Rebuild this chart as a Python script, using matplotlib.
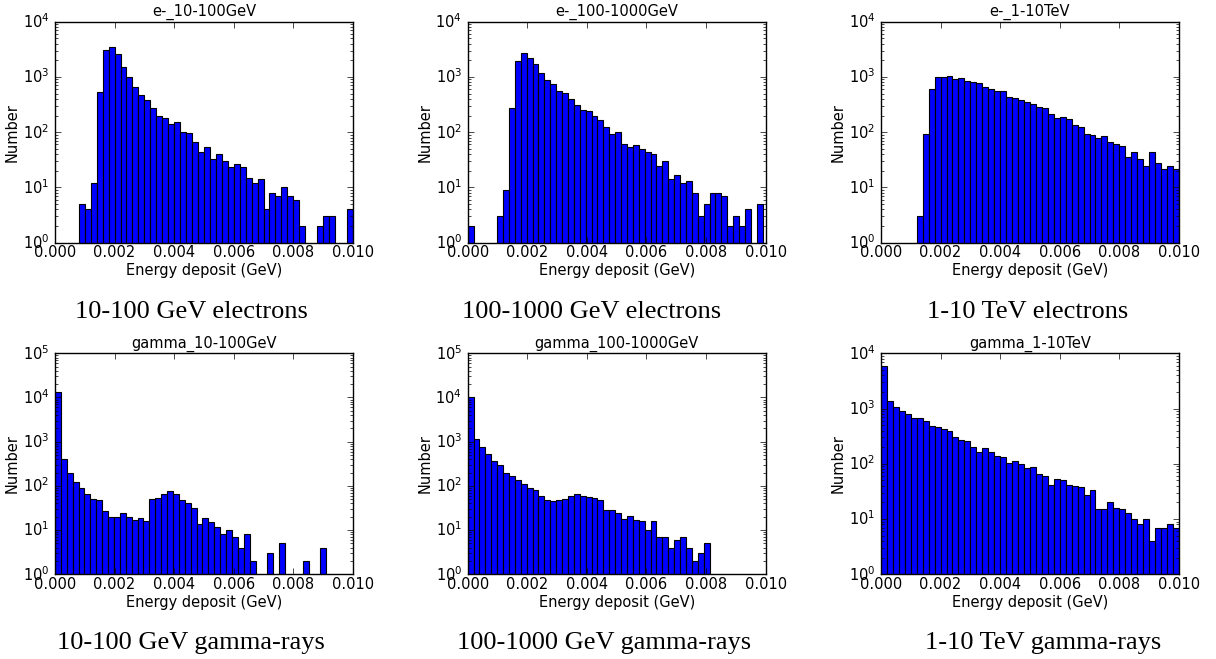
import numpy as np
import matplotlib.pyplot as plt
from matplotlib.ticker import FormatStrFormatter

plt.style.use('classic')
plt.rcParams['font.family'] = 'DejaVu Sans'
plt.rcParams['font.size'] = 10.5
plt.rcParams['mathtext.fontset'] = 'dejavusans'
plt.rcParams['mathtext.default'] = 'regular'
plt.rcParams['figure.facecolor'] = 'white'
plt.rcParams['savefig.facecolor'] = 'white'
plt.rcParams['xtick.major.pad'] = 2
plt.rcParams['ytick.major.pad'] = 4

# panel titles and captions
titles = ['e-_10-100GeV', 'e-_100-1000GeV', 'e-_1-10TeV',
          'gamma_10-100GeV', 'gamma_100-1000GeV', 'gamma_1-10TeV']
captions = ['10-100 GeV electrons', '100-1000 GeV electrons', '1-10 TeV electrons',
            '10-100 GeV gamma-rays', '100-1000 GeV gamma-rays', '1-10 TeV gamma-rays']

# counts per bin (50 bins each)
e_10_100 = [0, 0, 0, 0, 5, 4, 12, 525, 3100, 3550,
            2560, 1490, 985, 665, 470, 380, 270, 200, 178, 138,
            152, 100, 96, 66, 44, 53, 33, 40, 30, 23,
            27, 23, 15, 12, 14, 4, 8, 7, 10, 7,
            6, 2, 0, 0, 2, 3, 3, 0, 0, 4]
e_100_1000 = [2, 0, 0, 0, 0, 3, 9, 277, 1960, 2760,
              2220, 1690, 1200, 890, 745, 565, 505, 400, 310, 250,
              240, 198, 168, 126, 91, 100, 60, 55, 58, 49,
              43, 40, 24, 30, 14, 17, 12, 13, 8, 3,
              5, 8, 8, 7, 2, 3, 2, 4, 0, 5]
e_1_10 = [0, 0, 0, 0, 0, 0, 3, 94, 605, 1000,
          1010, 1030, 920, 940, 850, 815, 765, 660, 600, 565,
          555, 440, 410, 375, 350, 318, 285, 270, 213, 178,
          190, 173, 137, 126, 92, 90, 79, 85, 66, 61,
          57, 36, 44, 33, 24, 44, 28, 22, 24, 22]
g_10_100 = [13000, 400, 200, 120, 90, 65, 50, 47, 27, 20,
            20, 25, 20, 17, 19, 16, 50, 53, 67, 75,
            66, 48, 40, 32, 14, 19, 15, 12, 8, 10,
            7, 4, 8, 2, 0, 0, 3, 0, 5, 0,
            0, 0, 2, 0, 0, 4, 0, 0, 0, 0]
g_100_1000 = [10200, 1170, 740, 535, 360, 293, 200, 168, 139, 111,
              92, 80, 59, 47, 45, 48, 50, 59, 67, 60,
              55, 52, 49, 29, 29, 24, 18, 21, 17, 16,
              10, 16, 7, 7, 4, 6, 7, 4, 2, 3,
              5, 0, 0, 0, 0, 0, 0, 0, 0, 0]
g_1_10 = [6000, 1380, 1080, 910, 800, 670, 665, 605, 475, 465,
          425, 387, 310, 266, 258, 204, 163, 195, 163, 137,
          131, 105, 112, 98, 83, 86, 66, 59, 41, 54,
          50, 42, 40, 38, 27, 33, 15, 15, 20, 16,
          15, 13, 10, 8, 10, 4, 7, 7, 8, 7]

counts = [e_10_100, e_100_1000, e_1_10, g_10_100, g_100_1000, g_1_10]
hist_top = [0.0100, 0.0099, 0.0100, 0.0099, 0.0099, 0.0100]
ymax = [1e4, 1e4, 1e4, 1e5, 1e5, 1e4]

fig = plt.figure(figsize=(12.16, 6.59), dpi=100)

lefts = [0.0452, 0.3846, 0.7245]
bottoms = [0.6317, 0.1285]
w_ax = 0.2450
h_ax = 0.3354

cap_x = [0.1575, 0.4864, 0.845, 0.157, 0.497, 0.858]
cap_y = [0.5266, 0.0243]

for i in range(6):
    row, col = i // 3, i % 3
    ax = fig.add_axes([lefts[col], bottoms[row], w_ax, h_ax])
    edges = np.linspace(0, hist_top[i], 51)
    mids = (edges[:-1] + edges[1:]) / 2
    ax.hist(mids, bins=edges, weights=counts[i], log=True,
            color='b', edgecolor='k', linewidth=0.8)
    ax.set_xlim(0, 0.01)
    ax.set_ylim(1, ymax[i])
    ax.set_xticks(np.arange(0, 0.0101, 0.002))
    ax.xaxis.set_major_formatter(FormatStrFormatter('%.3f'))
    ax.set_title(titles[i], fontsize=10.5, pad=4)
    ax.set_xlabel('Energy deposit (GeV)', labelpad=2)
    ax.set_ylabel('Number', labelpad=2)
    fig.text(cap_x[i], cap_y[row], captions[i], family='Liberation Serif',
             size=19, ha='center', va='center')

plt.savefig('out.png', dpi=100)
